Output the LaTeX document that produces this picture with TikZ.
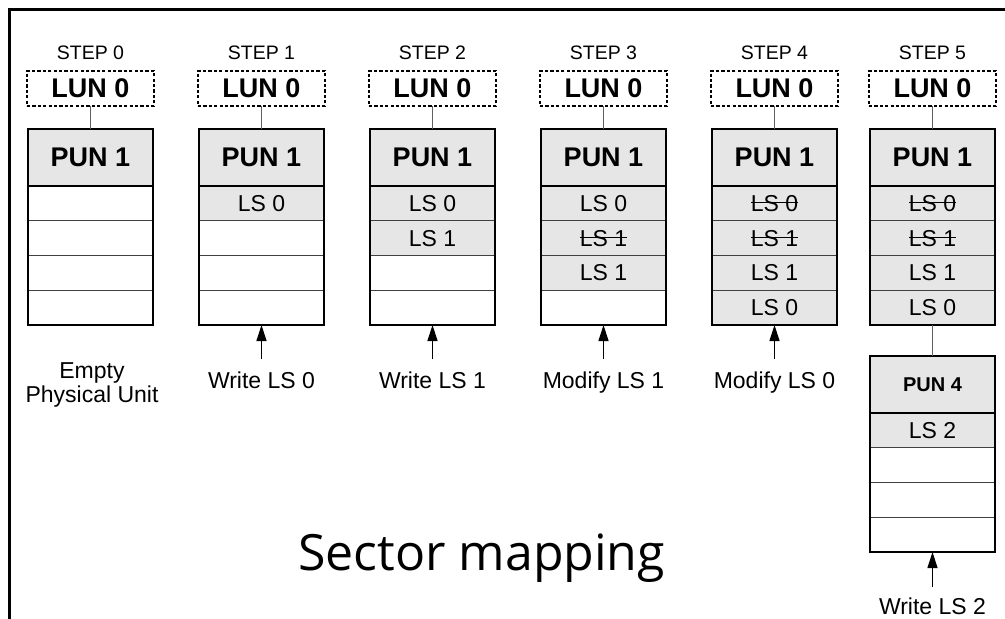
\documentclass[tikz,border=0pt]{standalone}
\usepackage{fontspec}
\setmainfont{Liberation Sans}
\newfontfamily\titlefont{Open Sans}
\usetikzlibrary{arrows.meta}
\definecolor{cellgray}{HTML}{E6E6E6}
\definecolor{rowline}{HTML}{404040}
\definecolor{connline}{HTML}{606060}
\newcommand\strk[1]{\setbox0\hbox{#1}\rlap{\rule[0.36em]{\wd0}{1.2pt}}\box0}
\tikzset{
  cell/.style={draw=rowline, line width=1.2pt, minimum width=125pt, minimum height=34.75pt,
    inner sep=0pt, outer sep=0pt, anchor=north west, font=\fontsize{23}{27}\selectfont},
  head/.style={cell, fill=cellgray, minimum height=57pt, font=\bfseries\fontsize{27}{30}\selectfont},
  lunbox/.style={draw, dash pattern=on 3.2pt off 2.2pt, line width=2pt, minimum width=127pt,
    minimum height=35pt, inner sep=0pt, outer sep=0pt, font=\bfseries\fontsize{27}{30}\selectfont},
  steplbl/.style={anchor=base, inner sep=0pt, font=\fontsize{19.5}{22}\selectfont},
  note/.style={inner sep=0pt, align=center, font=\fontsize{23}{24.5}\selectfont},
  conn/.style={draw=connline, line width=1.2pt},
  arr/.style={-{Triangle[length=16pt,width=10pt]}, line width=1.2pt}
}
\newcommand\pcol[6]{%
  \node[head] (#1h) at (#2,#3) {#4};
  \foreach \i/\f/\t in {#6} {
    \node[cell,fill=\f] (#1r\i) at (#2,{#3+57+34.75*(\i-1)}) {\t};
  }
  \draw[line width=1.4pt] (#1h.north west) rectangle (#1r4.south east);
  \path[draw=black, line width=1.4pt, #5] (#1h.north west) rectangle (#1h.south east);
}
\begin{document}
\begin{tikzpicture}[x=1pt,y=-1pt]
\useasboundingbox (0,0) rectangle (1005,619);
% frame
\coordinate (fr1) at (1005,9.5);
\coordinate (fr2) at (9.5,9.5);
\coordinate (fr3) at (9.5,619);
\draw[line width=2.5pt] (fr1) -- (fr2) -- (fr3);

% step labels and LUN boxes
\foreach \k/\cx in {0/90.5, 1/261.5, 2/432.5, 3/603.5, 4/774.5, 5/932.5} {
  \node[steplbl] (s\k) at (\cx,59) {STEP \k};
  \node[lunbox] (lun\k) at (\cx,88.5) {LUN 0};
}

% columns
\pcol{c0}{28}{129}{PUN 1}{}{1/white/, 2/white/, 3/white/, 4/white/}
\pcol{c1}{199}{129}{PUN 1}{}{1/cellgray/LS 0, 2/white/, 3/white/, 4/white/}
\pcol{c2}{370}{129}{PUN 1}{}{1/cellgray/LS 0, 2/cellgray/LS 1, 3/white/, 4/white/}
\pcol{c3}{541}{129}{PUN 1}{}{1/cellgray/LS 0, 2/cellgray/\strk{LS 1}, 3/cellgray/LS 1, 4/white/}
\pcol{c4}{712}{129}{PUN 1}{}{1/cellgray/\strk{LS 0}, 2/cellgray/\strk{LS 1}, 3/cellgray/LS 1, 4/cellgray/LS 0}
\pcol{c5}{870}{129}{PUN 1}{line width=2.2pt}{1/cellgray/\strk{LS 0}, 2/cellgray/\strk{LS 1}, 3/cellgray/LS 1, 4/cellgray/LS 0}
\pcol{p4}{870}{356}{\fontsize{20}{24}\selectfont PUN 4}{line width=2.2pt}{1/cellgray/LS 2, 2/white/, 3/white/, 4/white/}

% LUN to PUN connectors
\foreach \k in {0,...,5} { \draw[conn] (lun\k.south) -- (c\k h.north); }
\draw[conn] (c5r4.south) -- (p4h.north);

% arrows
\coordinate (t1) at (261.5,359);
\coordinate (t2) at (432.5,359);
\coordinate (t3) at (603.5,359);
\coordinate (t4) at (774.5,359);
\coordinate (t5) at (932.5,587);
\draw[arr] (t1) -- (c1r4.south);
\draw[arr] (t2) -- (c2r4.south);
\draw[arr] (t3) -- (c3r4.south);
\draw[arr] (t4) -- (c4r4.south);
\draw[arr] (t5) -- (p4r4.south);

% labels
\node[note] (l0) at (92,385) {Empty\\Physical Unit};
\node[note, anchor=base] (l1) at (261.5,388) {Write LS 0};
\node[note, anchor=base] (l2) at (432.5,388) {Write LS 1};
\node[note, anchor=base] (l3) at (603.5,388) {Modify LS 1};
\node[note, anchor=base] (l4) at (774.5,388) {Modify LS 0};
\node[note, anchor=base] (l5) at (932.5,614) {Write LS 2};

% title
\node[anchor=base west, inner sep=0pt, font=\titlefont\fontsize{50}{60}\selectfont] (title) at (298,570) {Sector mapping};
\end{tikzpicture}
\end{document}
